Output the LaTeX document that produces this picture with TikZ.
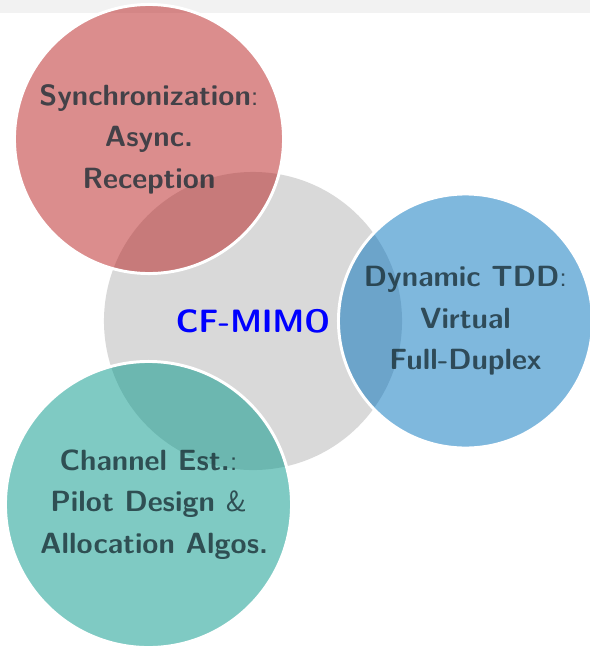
\documentclass[tikz,border=0pt]{standalone}
\usepackage{xcolor}
\definecolor{syncred}{RGB}{183,28,28}
\definecolor{tddblue}{RGB}{0,113,188}
\definecolor{chanteal}{RGB}{0,150,136}
\definecolor{labelgray}{RGB}{25,45,52}
\definecolor{bandgray}{RGB}{242,242,242}
\tikzset{
  topic/.style={circle, draw=white, line width=2.1pt, fill opacity=0.5,
    text opacity=0.78, text=labelgray, align=center, inner sep=0pt,
    font=\sffamily\bfseries\fontsize{20.8}{29.5}\selectfont},
  hub/.style={circle, fill=black!15, inner sep=0pt, text=blue,
    font=\sffamily\bfseries\fontsize{23}{28}\selectfont}
}
\begin{document}
\begin{tikzpicture}[x=0.025cm, y=-0.025cm]
\useasboundingbox (0,0) rectangle (590,646);
\fill[bandgray] (0,0) rectangle (590,12.5);
% centre
\node[hub, minimum size=7.45cm] (cfmimo) at (253,321) {CF-MIMO};
% satellites
\node[topic, fill=syncred, minimum size=6.725cm] (sync) at (149,139)
  {Synchronization\textmd{:}\\Async.\\Reception};
\node[topic, fill=tddblue, minimum size=6.35cm] (tdd) at (465.5,321)
  {Dynamic TDD\textmd{:}\\Virtual\\Full-Duplex};
\node[topic, fill=chanteal, minimum size=7.15cm] (chan) at (148.5,504.5)
  {Channel Est.\textmd{:}\\Pilot Design \textmd{\&}\\\hspace{8pt}Allocation Algos.};
\end{tikzpicture}
\end{document}
